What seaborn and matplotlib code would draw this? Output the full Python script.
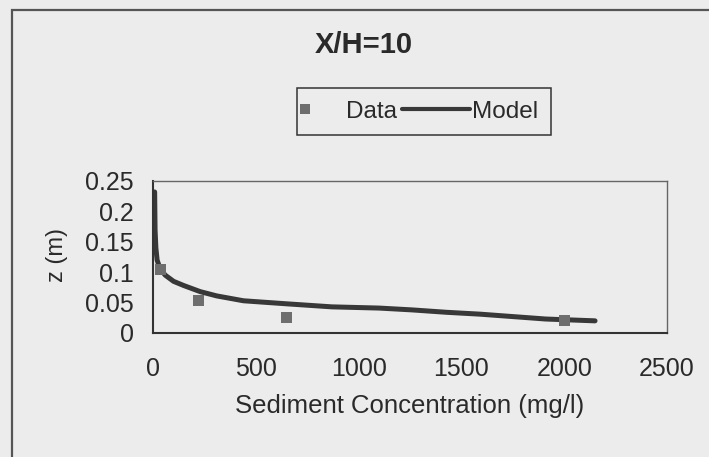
import numpy as np
import pandas as pd
import matplotlib
matplotlib.use("Agg")
import matplotlib.pyplot as plt
import seaborn as sns
from matplotlib.lines import Line2D
from matplotlib.patches import Rectangle
from matplotlib.legend_handler import HandlerLine2D

# ---- data ----
data_conc = [35, 220, 650, 2000]
data_z = [0.104, 0.054, 0.025, 0.020]

model_conc = [8, 10, 14, 20, 35, 60, 100, 150, 230, 310, 440, 650, 870,
              1100, 1260, 1430, 1590, 1750, 1910, 2150]
model_z = [0.232, 0.17, 0.14, 0.12, 0.105, 0.095, 0.085, 0.078, 0.068, 0.061,
           0.053, 0.048, 0.043, 0.041, 0.038, 0.034, 0.031, 0.027, 0.023, 0.020]

x_ticks = [0, 500, 1000, 1500, 2000, 2500]
y_ticks = [0, 0.05, 0.1, 0.15, 0.2, 0.25]
y_tick_labels = ["0", "0.05", "0.1", "0.15", "0.2", "0.25"]

title = "X/H=10"
xlabel = "Sediment Concentration (mg/l)"
ylabel = "z (m)"

df_data = pd.DataFrame({"conc": data_conc, "z": data_z})
df_model = pd.DataFrame({"conc": model_conc, "z": model_z})

# ---- style ----
sns.set_theme(style="white")
bg = "#ececec"
txt = "#2a2a2a"
plt.rcParams["font.family"] = ["Liberation Sans", "DejaVu Sans"]
plt.rcParams["text.color"] = txt
plt.rcParams["axes.labelcolor"] = txt
plt.rcParams["xtick.color"] = txt
plt.rcParams["ytick.color"] = txt

fig = plt.figure(figsize=(7.09, 4.57), dpi=100, facecolor=bg)
ax = fig.add_axes([153 / 709, 1 - 333 / 457, 514 / 709, 152 / 457])
ax.set_facecolor(bg)

line_col = "#383838"
mark_col = "#6e6e6e"

sns.lineplot(data=df_model, x="conc", y="z", ax=ax, color=line_col,
             linewidth=3.6, sort=False, zorder=2, legend=False)
sns.scatterplot(data=df_data, x="conc", y="z", ax=ax, color=mark_col,
                marker="s", s=60, edgecolor="none", zorder=3, legend=False)

ax.set_xlim(0, 2500)
ax.set_ylim(0, 0.25)
ax.set_xticks(x_ticks)
ax.set_xticklabels([str(t) for t in x_ticks])
ax.set_yticks(y_ticks)
ax.set_yticklabels(y_tick_labels)
ax.tick_params(axis="both", direction="out", length=5, width=1.2,
               labelsize=18, colors=txt)
ax.tick_params(axis="x", pad=12)
ax.tick_params(axis="y", pad=9)

for side in ["left", "bottom"]:
    ax.spines[side].set_color("#333333")
    ax.spines[side].set_linewidth(1.5)
for side in ["top", "right"]:
    ax.spines[side].set_color("#666666")
    ax.spines[side].set_linewidth(1.0)

ax.set_xlabel(xlabel, fontsize=18.5)
ax.set_ylabel(ylabel, fontsize=17)
ax.xaxis.set_label_coords(0.5, -0.40)
ax.yaxis.set_label_coords(-0.165, 0.513)

# title
fig.text(364 / 709, 1 - 45 / 457, title, ha="center", va="center",
         fontsize=21, fontweight="bold", color=txt)

# legend
class EntryHandler(HandlerLine2D):
    def __init__(self, ext=0.0, mfrac=None, **kw):
        super().__init__(**kw)
        self.ext = ext
        self.mfrac = mfrac

    def get_xdata(self, legend, xdescent, ydescent, width, height, fontsize):
        if self.mfrac is not None:
            m = -xdescent + self.mfrac * width
            xd = np.array([m - 1.0, m + 1.0])
            return xd, np.array([m])
        x0 = -xdescent - self.ext * width
        xd = np.array([x0, -xdescent + width])
        return xd, np.array([xd.mean()])

h_data = Line2D([], [], marker="s", linestyle="none", color=mark_col,
                markersize=7.5, markeredgewidth=0)
h_model = Line2D([], [], color=line_col, linewidth=3.0)
leg = fig.legend([h_data, h_model], ["Data", "Model"], ncol=2,
                 loc="center", bbox_to_anchor=(424 / 709, 1 - 111.5 / 457),
                 fontsize=17.5, frameon=True, fancybox=False, shadow=False,
                 handlelength=1.4, handletextpad=0.1, columnspacing=1.6,
                 borderpad=0.5,
                 handler_map={h_data: EntryHandler(mfrac=-0.12),
                              h_model: EntryHandler(ext=1.0)})
fr = leg.get_frame()
fr.set_facecolor(bg)
fr.set_edgecolor("#333333")
fr.set_linewidth(1.1)
fr.set_alpha(1)

# outer chart-area border (top and left visible)
fig.add_artist(Rectangle((12 / 709, -0.2), 1.5, 1.2 - 10 / 457,
                         transform=fig.transFigure, fill=False,
                         edgecolor="#555555", linewidth=1.6))

fig.savefig("out.png", dpi=100, facecolor=bg)
